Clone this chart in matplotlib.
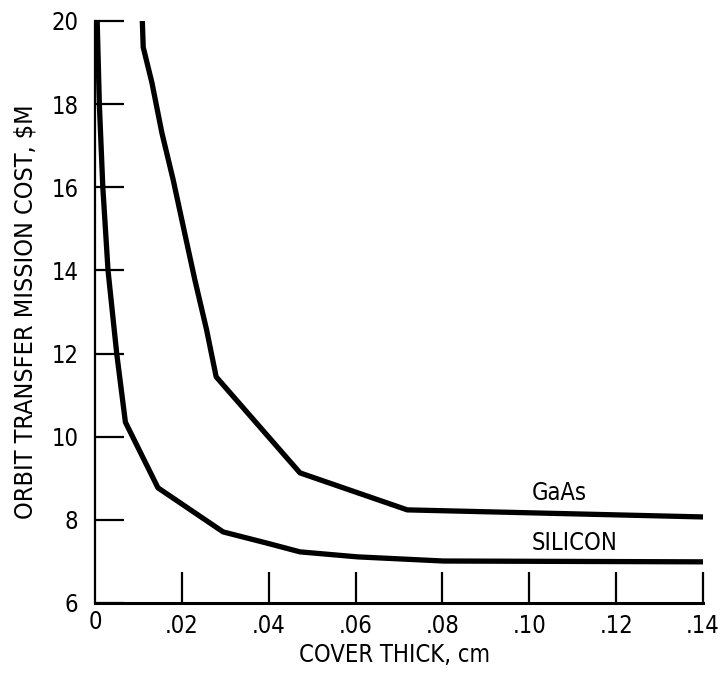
import matplotlib
matplotlib.use("Agg")
import matplotlib.pyplot as plt

plt.rcParams["font.family"] = ["DejaVu Sans"]
plt.rcParams["font.stretch"] = "condensed"

# cover thickness (cm) vs mission cost ($M)
silicon_x = [0.0005, 0.001, 0.0018, 0.003, 0.005, 0.007, 0.0145, 0.0295, 0.0396, 0.0472, 0.0604, 0.0802, 0.140]
silicon_y = [20.0, 18.0, 16.0, 14.0, 12.0, 10.35, 8.77, 7.71, 7.44, 7.23, 7.11, 7.01, 6.99]

gaas_x = [0.0109, 0.0111, 0.0131, 0.0154, 0.018, 0.021, 0.023, 0.0257, 0.0279, 0.0426, 0.0472, 0.0719, 0.140]
gaas_y = [20.0, 19.37, 18.52, 17.31, 16.18, 14.73, 13.77, 12.57, 11.44, 9.68, 9.13, 8.24, 8.07]

x_ticks = [0.02, 0.04, 0.06, 0.08, 0.10, 0.12, 0.14]
x_ticklabels = [".02", ".04", ".06", ".08", ".10", ".12", ".14"]
y_ticks = [6, 8, 10, 12, 14, 16, 18, 20]

fig = plt.figure(figsize=(7.22, 6.8), dpi=100)
ax = fig.add_axes([95 / 722, 1 - 603 / 680, 608 / 722, 582 / 680])

ax.plot(silicon_x, silicon_y, color="black", lw=3.8, solid_joinstyle="round")
ax.plot(gaas_x, gaas_y, color="black", lw=3.8, solid_joinstyle="round")

ax.text(0.1005, 8.65, "GaAs", fontsize=17, ha="left", va="center")
ax.text(0.1005, 7.44, "SILICON", fontsize=17, ha="left", va="center")

ax.set_xlim(0, 0.14)
ax.set_ylim(6, 20)

ax.spines["top"].set_visible(False)
ax.spines["right"].set_visible(False)
ax.spines["left"].set_linewidth(1.6)
ax.spines["bottom"].set_linewidth(2.2)

ax.set_xticks(x_ticks, x_ticklabels)
ax.set_yticks(y_ticks, [str(v) for v in y_ticks])
ax.tick_params(axis="x", direction="in", length=22, width=1.6, pad=8, labelsize=17)
ax.tick_params(axis="y", direction="in", length=21, width=1.6, pad=12, labelsize=17)
ax.text(0, -0.012, "0", transform=ax.get_xaxis_transform(), ha="center", va="top", fontsize=17)

ax.set_xlabel("COVER THICK, cm", fontsize=17)
ax.set_ylabel("ORBIT TRANSFER MISSION COST, \\$M", fontsize=18)
ax.xaxis.set_label_coords(0.492, -0.068)
ax.yaxis.set_label_coords(-0.095, 0.5)

fig.savefig("out.png", dpi=100)
